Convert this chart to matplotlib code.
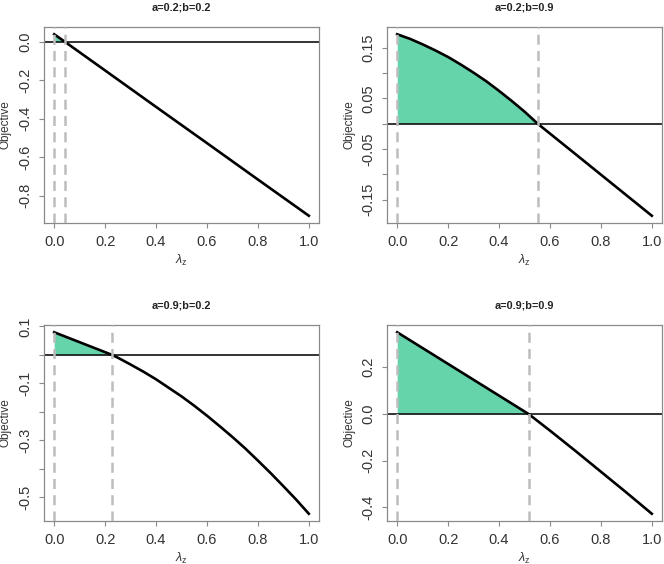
import numpy as np
import matplotlib
matplotlib.use("Agg")
import matplotlib.pyplot as plt

plt.rcParams['font.family'] = ['Liberation Sans', 'DejaVu Sans']
plt.rcParams['mathtext.fontset'] = 'custom'
plt.rcParams['mathtext.rm'] = 'Liberation Sans'
plt.rcParams['mathtext.it'] = 'Liberation Sans:italic'

# values
titles = ["a=0.2;b=0.2", "a=0.2;b=0.9", "a=0.9;b=0.2", "a=0.9;b=0.9"]

x1 = [0.0, 0.041, 0.2, 0.4, 0.6, 0.8, 1.0]
y1 = [0.038, 0.0, -0.150, -0.339, -0.527, -0.716, -0.904]

x2 = [0.0, 0.05, 0.10, 0.15, 0.20, 0.25, 0.30, 0.35, 0.40, 0.45, 0.50,
      0.552, 0.7, 0.85, 1.0]
y2 = [0.177, 0.168, 0.157, 0.145, 0.132, 0.117, 0.101, 0.084, 0.065,
      0.045, 0.024, 0.0, -0.060, -0.121, -0.182]

x3 = [0.0, 0.227, 0.25, 0.30, 0.35, 0.40, 0.45, 0.50, 0.55, 0.60, 0.65,
      0.70, 0.75, 0.80, 0.85, 0.90, 0.95, 1.0]
y3 = [0.0795, 0.0, -0.010, -0.034, -0.059, -0.086, -0.116, -0.146, -0.179,
      -0.214, -0.251, -0.289, -0.329, -0.372, -0.416, -0.462, -0.509, -0.559]

x4 = [0.0, 0.516, 0.6, 0.7, 0.8, 0.9, 1.0]
y4 = [0.350, 0.0, -0.071, -0.158, -0.247, -0.336, -0.427]

roots = [0.041, 0.552, 0.227, 0.516]

xticks = [0.0, 0.2, 0.4, 0.6, 0.8, 1.0]
yticks = [
    [-0.8, -0.6, -0.4, -0.2, 0.0],
    [-0.15, -0.10, -0.05, 0.0, 0.05, 0.10, 0.15],
    [-0.5, -0.4, -0.3, -0.2, -0.1, 0.0, 0.1],
    [-0.4, -0.2, 0.0, 0.2],
]
ylabels = [
    ["-0.8", "-0.6", "-0.4", "-0.2", "0.0"],
    ["-0.15", "", "-0.05", "", "0.05", "", "0.15"],
    ["-0.5", "", "-0.3", "", "-0.1", "", "0.1"],
    ["-0.4", "-0.2", "0.0", "0.2"],
]

xs = [x1, x2, x3, x4]
ys = [y1, y2, y3, y4]

W, H = 664, 564
fig = plt.figure(figsize=(W / 100, H / 100), dpi=100)

# box positions in pixels: left, top, right, bottom
boxes = [(44, 27, 319, 223), (387, 27, 662, 223),
         (44, 325, 319, 521), (387, 325, 662, 521)]

green = '#66d4ab'
box_col = '#8a8a8a'
txt_col = '#333333'

for i in range(4):
    l, t, r, b = boxes[i]
    ax = fig.add_axes([l / W, (H - b) / H, (r - l) / W, (b - t) / H])
    x = np.array(xs[i])
    y = np.array(ys[i])

    pos = x <= roots[i] + 1e-9
    ax.fill_between(x[pos], y[pos], 0, color=green, lw=0, zorder=1)
    ax.axhline(0, color='#111111', lw=1.2, zorder=2)
    ax.plot(x, y, color='black', lw=1.9, zorder=3, solid_joinstyle='round')
    for v in [0.0, roots[i]]:
        ax.axvline(v, color='#bdbdbd', lw=1.8, dashes=(4, 2.5), zorder=4)

    ax.set_xlim(-0.04, 1.04)
    rng = max(y) - min(y)
    ax.set_ylim(min(y) - 0.04 * rng, max(y) + 0.04 * rng)

    ax.set_xticks(xticks)
    ax.set_xticklabels(["%.1f" % v for v in xticks])
    ax.set_yticks(yticks[i])
    ax.set_yticklabels(ylabels[i], rotation=90, va='center')
    ax.tick_params(length=3.8, width=0.8, color=box_col, labelsize=10.5,
                   labelcolor=txt_col, pad=4.5)
    for s in ax.spines.values():
        s.set_color(box_col)
        s.set_linewidth(0.9)

    ax.set_ylabel("Objective", fontsize=8.5, color=txt_col, va='center')
    ax.yaxis.set_label_coords(-38 / (r - l), 0.5)
    ax.set_xlabel(r"$\lambda_{\mathrm{z}}$", fontsize=9, color=txt_col, va='center')
    ax.xaxis.set_label_coords(0.5, -37 / (b - t))
    ax.text(0.5, 1 + 20 / (b - t), titles[i], transform=ax.transAxes,
            ha='center', va='center', fontsize=7.8, fontweight='bold',
            color='#222222')

plt.savefig("out.png", dpi=100)
